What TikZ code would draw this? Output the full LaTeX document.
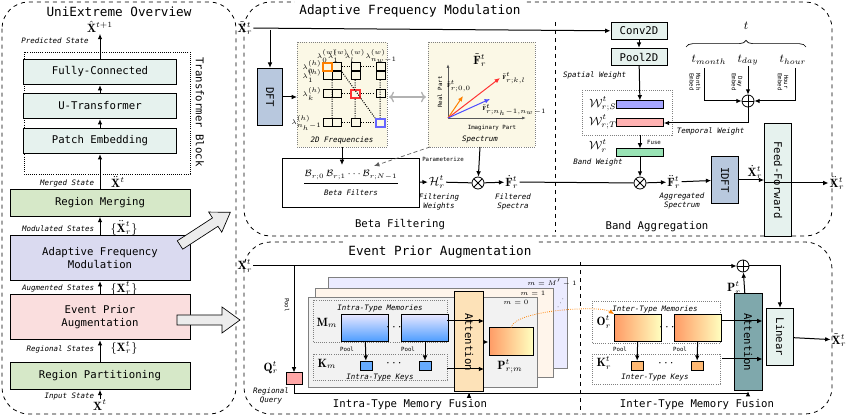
\documentclass[tikz,border=0pt]{standalone}
\usepackage{amsmath,amssymb}
\usepackage{fontspec}
\setmonofont{DejaVu Sans Mono}
\usetikzlibrary{arrows.meta,positioning,decorations.pathreplacing}
\tikzset{every picture/.style={line width=0.75pt}}
\tikzset{
  blk/.style={draw, font=\ttfamily\fontsize{8}{9.5}\selectfont, inner sep=1pt, align=center},
  ttl/.style={font=\ttfamily\fontsize{9.5}{11}\selectfont},
  sub/.style={font=\ttfamily\fontsize{8}{9}\selectfont},
  lbl/.style={font=\ttfamily\itshape\fontsize{5.6}{6.5}\selectfont, align=center, inner sep=1pt},
  tiny/.style={font=\ttfamily\fontsize{4.3}{4.8}\selectfont, align=center, inner sep=0.5pt},
  mth/.style={font=\fontsize{9}{10}\selectfont, inner sep=0.5pt},
  sml/.style={font=\fontsize{4.3}{5}\selectfont, inner sep=0pt},
  arr/.style={-{Latex[length=4pt,width=3.5pt]}},
  panel/.style={draw, dashed, rounded corners=20pt, line width=0.6pt},
  dotbox/.style={draw=gray, densely dotted, line width=0.6pt},
  op/.style={draw, circle, minimum size=9pt, inner sep=0pt, line width=0.6pt},
  oplus/.style={op, path picture={\draw (path picture bounding box.north) -- (path picture bounding box.south) (path picture bounding box.west) -- (path picture bounding box.east);}},
  otimes/.style={op, path picture={\draw (path picture bounding box.north west) -- (path picture bounding box.south east) (path picture bounding box.south west) -- (path picture bounding box.north east);}},
}
\definecolor{cTeal}{RGB}{230,242,238}
\definecolor{cGreen}{RGB}{214,232,200}
\definecolor{cLav}{RGB}{218,218,240}
\definecolor{cPink}{RGB}{250,222,222}
\definecolor{cDft}{RGB}{184,200,222}
\definecolor{cYel}{RGB}{251,248,230}
\definecolor{cAtt}{RGB}{253,226,184}
\definecolor{cAtt2}{RGB}{127,168,172}
\begin{document}
\begin{tikzpicture}[x=0.75pt,y=0.75pt,yscale=-1]
\path[use as bounding box] (0,0) rectangle (847,416);

% overview panel
\draw[panel] (2,2) rectangle (236,414);
\node[ttl] at (119,12) {UniExtreme Overview};
\draw[dotbox, draw=black] (24,52) rectangle (190,174);
\node[sub, rotate=-90] at (200,112) {Transformer Block};
\node[mth] (xout) at (100,27) {$\hat{\mathbf{X}}^{t+1}$};
\node[lbl] at (55,41) {Predicted State};
\node[blk, fill=cTeal, minimum width=115, minimum height=19] (fc) at (100,72) {Fully-Connected};
\node[blk, fill=cTeal, minimum width=115, minimum height=19] (ut) at (100,106) {U-Transformer};
\node[blk, fill=cTeal, minimum width=115, minimum height=19] (pe) at (100,141) {Patch Embedding};
\node[blk, fill=cGreen, minimum width=135, minimum height=20] (rm) at (100,203) {Region Merging};
\node[blk, fill=cLav, minimum width=135, minimum height=34] (afm) at (100,258) {Adaptive Frequency\\Modulation};
\node[blk, fill=cPink, minimum width=135, minimum height=34] (epa) at (100,317) {Event Prior\\Augmentation};
\node[blk, fill=cGreen, minimum width=135, minimum height=20] (rp) at (100,376) {Region Partitioning};
\node[mth] (xin) at (100,405) {$\mathbf{X}^{t}$};
\node[lbl, anchor=east] at (96,183) {Merged State};
\node[mth] at (118,182) {$\ddot{\mathbf{X}}^{t}$};
\node[lbl, anchor=east] at (96,229) {Modulated States};
\node[mth] at (124,228) {$\{\ddot{\mathbf{X}}^{t}_{r}\}$};
\node[lbl, anchor=east] at (96,288) {Augmented States};
\node[mth] at (124,288) {$\{\tilde{\mathbf{X}}^{t}_{r}\}$};
\node[lbl, anchor=east] at (96,349) {Regional States};
\node[mth] at (124,348) {$\{\mathbf{X}^{t}_{r}\}$};
\node[lbl, anchor=east] at (96,397) {Input State};
\draw[arr] (xin) -- (rp);
\draw[arr] (rp) -- (epa);
\draw[arr] (epa) -- (afm);
\draw[arr] (afm) -- (rm);
\draw[arr] (rm) -- (pe);
\draw[arr] (pe) -- (ut);
\draw[arr] (ut) -- (fc);
\draw[arr] (fc) -- (xout);
% hollow arrows
\draw[fill=gray!15, line width=0.5pt, rotate around={-33:(180,245)}] (180,240) -- (222,240) -- (222,233) -- (240,245) -- (222,257) -- (222,250) -- (180,250) -- cycle;
\draw[fill=gray!15, line width=0.5pt] (177,315) -- (222,315) -- (222,307) -- (240,320) -- (222,333) -- (222,325) -- (177,325) -- cycle;

% adaptive frequency modulation
\draw[panel] (244,2) rectangle (832,236);
\node[ttl, fill=white] at (410,11) {Adaptive Frequency Modulation};
\draw[dashed, line width=0.5pt] (555,22) -- (555,232);
\node[mth] (xa) at (245,28) {$\tilde{\mathbf{X}}^{t}_{r}$};
\node[blk, fill=cTeal, minimum width=42, minimum height=13] (conv) at (639,31) {Conv2D};
\node[blk, fill=cTeal, minimum width=42, minimum height=13] (pool) at (639,57) {Pool2D};
\draw[arr] (xa) -- (conv);
\draw[arr] (conv) -- (pool);
\node[blk, fill=cDft, minimum width=43, minimum height=19, rotate=-90] (dft) at (270,97) {DFT};
\coordinate (dfttap) at (270,30);
\draw[arr] (dfttap) -- (dft);
% 2D frequencies
\draw[dotbox, fill=cYel] (297,42) rectangle (387,147);
\node[lbl] (freq) at (342,140) {2D Frequencies};
\coordinate (freqin) at (297,97);
\draw[arr] (dft) -- (freqin);
\foreach \y/\l in {67/0,76/1,94/k} {
  \draw (323,\y-4) rectangle (332,\y+4) (332,\y-4) rectangle (341,\y+4);
  \draw (351,\y-4) rectangle (360,\y+4) (376,\y-4) rectangle (385,\y+4);
  \node[sml, anchor=east] at (322,\y) {$\lambda^{(h)}_{\l}$};
}
\draw (323,119) rectangle (332,127) (332,119) rectangle (341,127) (351,119) rectangle (360,127);
\node[sml, anchor=east] at (322,123) {$\lambda^{(h)}_{n_h-1}$};
\draw[orange, line width=0.9pt] (323,63) rectangle (332,71);
\draw[red!80, line width=0.9pt] (351,90) rectangle (360,98);
\draw[blue!60, line width=0.9pt] (376,119) rectangle (385,127);
\draw[densely dotted] (342,67) -- (350,67) (361,67) -- (375,67) (342,94) -- (350,94) (361,94) -- (375,94) (342,123) -- (350,123) (361,123) -- (375,123);
\draw[densely dotted] (332,80) -- (332,118) (355,80) -- (355,89) (355,99) -- (355,118) (380,80) -- (380,118) (342,72) -- (375,118);
\node[sml] at (327,56) {$\lambda^{(w)}_{0}$};
\node[sml] at (338,56) {$\lambda^{(w)}_{1}$};
\node[sml] at (355,56) {$\lambda^{(w)}_{l}$};
\node[sml] at (381,56) {$\lambda^{(w)}_{n_w-1}$};
% spectrum
\draw[dotbox, fill=cYel] (428,42) rectangle (535,147);
\node[lbl] (spec) at (480,140) {Spectrum};
\node[mth] at (480,60) {$\tilde{\mathbf{F}}^{t}_{r}$};
\draw[<->, gray!60, line width=1pt] (389,97) -- (426,97);
\coordinate (orig) at (448,118);
\coordinate (yax) at (448,64);
\coordinate (xax) at (526,118);
\draw[-{Latex[length=3pt]}, gray!70!black, line width=0.6pt] (orig) -- (yax);
\draw[-{Latex[length=3pt]}, gray!70!black, line width=0.6pt] (orig) -- (xax);
\node[tiny, rotate=90] at (440,92) {Real Part};
\node[tiny] at (492,128) {Imaginary Part};
\draw[arr, orange] (orig) -- (463,96);
\draw[arr, red!80] (orig) -- (500,78);
\draw[arr, blue!70] (orig) -- (490,99);
\node[sml] at (459,86) {$\tilde{\mathbf{F}}^{t}_{r;0,0}$};
\node[sml, anchor=west] at (502,78) {$\tilde{\mathbf{F}}^{t}_{r;k,l}$};
\node[sml, anchor=west] at (482,110) {$\tilde{\mathbf{F}}^{t}_{r;n_h-1,n_w-1}$};
% beta filters
\node[draw, line width=0.6pt, minimum width=103, minimum height=37, inner sep=1pt, align=center] (beta) at (351,183) {};
\draw[line width=0.5pt] (304,183) -- (398,183);
\node[font=\fontsize{7}{8}\selectfont] at (351,175) {$\mathcal{B}_{r;0}\,\mathcal{B}_{r;1}\cdots\mathcal{B}_{r;N-1}$};
\node[lbl] at (351,193) {Beta Filters};
\coordinate (freqout) at (342,147);
\draw[arr] (freqout) -- (342,165);
\coordinate (specpar) at (430,147);
\draw[arr, densely dashed, gray!70!black, line width=0.5pt] (specpar) -- (374,166);
\node[tiny] at (443,159) {Parameterize};
\node[mth] (hw) at (437,182) {$\mathcal{H}^{t}_{r}$};
\node[lbl] at (439,202) {Filtering\\Weights};
\node[otimes] (mul1) at (478,183) {};
\node[mth] (fdot) at (512,182) {$\dot{\mathbf{F}}^{t}_{r}$};
\node[lbl] at (513,202) {Filtered\\Spectra};
\draw[arr] (beta) -- (hw);
\draw (hw) -- (mul1);
\coordinate (specout) at (480,147);
\draw[arr] (specout) -- (mul1);
\draw[arr] (mul1) -- (fdot);
\node[sub] at (400,225) {Beta Filtering};
\node[sub] at (657,227) {Band Aggregation};
% band weights
\node[lbl, anchor=east] at (628,75) {Spatial Weight};
\draw[dotbox] (582,90) rectangle (672,135);
\node[draw, fill=blue!35, minimum width=35, minimum height=6, inner sep=0] (ws) at (640,105) {};
\node[draw, fill=red!30, minimum width=35, minimum height=6, inner sep=0] (wt) at (640,123) {};
\node[mth] at (603,104) {$\mathcal{W}^{t}_{r;S}$};
\node[mth] at (603,122) {$\mathcal{W}^{t}_{r;T}$};
\draw[arr] (pool) -- (ws);
\node[draw, fill=green!45!teal!40, minimum width=35, minimum height=6, inner sep=0] (wb) at (640,153) {};
\coordinate (wbox) at (640,135);
\draw[arr] (wbox) -- (wb);
\node[tiny] at (654,142) {Fuse};
\node[mth] at (598,146) {$\mathcal{W}^{t}_{r}$};
\node[lbl] at (598,162) {Band Weight};
\node[otimes] (mul2) at (640,183) {};
\draw[arr] (wb) -- (mul2);
\draw (fdot) -- (mul2);
% time embedding
\node[mth] at (746,26) {$t$};
\draw[decorate, decoration={brace, amplitude=5pt}, line width=0.5pt] (686,47) -- (806,47);
\node[mth] (tm) at (709,60) {$t_{month}$};
\node[mth] (td) at (748,60) {$t_{day}$};
\node[mth] (th) at (793,60) {$t_{hour}$};
\node[tiny, rotate=-90] at (695,82) {Month\\Embed};
\node[tiny, rotate=-90] at (737,82) {Day\\Embed};
\node[tiny, rotate=-90] at (783,82) {Hour\\Embed};
\node[oplus] (tsum) at (748,101) {};
\draw[arr] (td) -- (tsum);
\draw[arr] (704,68) |- (tsum);
\draw[arr] (795,68) |- (tsum);
\draw[arr] (tsum) |- (wt);
\node[lbl, anchor=west] at (675,131) {Temporal Weight};
% output of AFM
\node[mth] (fdd) at (674,182) {$\ddot{\mathbf{F}}^{t}_{r}$};
\node[lbl] at (682,201) {Aggregated\\Spectrum};
\node[blk, fill=cDft, minimum width=35, minimum height=20, rotate=-90] (idft) at (725,180) {IDFT};
\node[mth] (xd) at (755,172) {$\dot{\mathbf{X}}^{t}_{r}$};
\node[blk, fill=cTeal, minimum width=85, minimum height=20, rotate=-90] (ff) at (778,180) {Feed-Forward};
\node[mth] (xo) at (837,183) {$\ddot{\mathbf{X}}^{t}_{r}$};
\draw[arr] (mul2) -- (fdd);
\draw[arr] (fdd) -- (idft);
\draw[arr] (idft) -- (ff);
\draw[arr] (ff.south |- xo) -- (xo);

% event prior augmentation
\draw[panel] (244,242) rectangle (832,414);
\node[ttl, fill=white] at (440,252) {Event Prior Augmentation};
\draw[dashed, line width=0.5pt] (580,262) -- (580,414);
\node[mth] (xb) at (245,266) {$\mathbf{X}^{t}_{r}$};
\node[oplus] (psum) at (743,266) {};
\draw[arr] (xb) -- (psum);
\node[draw, fill=red!35, minimum width=12, minimum height=9, inner sep=0] (q) at (294,379) {};
\coordinate (qtap) at (294,266);
\draw[arr] (qtap) -- (q);
\node[tiny, rotate=-90] at (287,305) {Pool};
\node[mth] at (271,368) {$\mathbf{Q}^{t}_{r}$};
\node[lbl] at (271,396) {Regional\\Query};
% stacked cards
\draw[fill=blue!8, draw=gray, line width=0.5pt] (328,277) rectangle (567,368);
\draw[fill=orange!8, draw=gray, line width=0.5pt] (315,288) rectangle (553,377);
\draw[fill=gray!10, draw=gray, line width=0.7pt] (308,297) rectangle (537,387);
\node[sml] at (552,283) {$m=M'-1$};
\node[sml] at (533,293) {$m=1$};
\node[sml] at (516,302) {$m=0$};
\node[sml, rotate=60] at (561,303) {$\cdots$};
\draw[dotbox] (313,300) rectangle (447,342);
\node[lbl] at (380,308) {Intra-Type Memories};
\draw[dotbox] (313,354) rectangle (447,380);
\node[lbl] at (380,378) {Intra-Type Keys};
\node[mth] at (327,323) {$\mathbf{M}_{m}$};
\node[mth] at (327,364) {$\mathbf{K}_{m}$};
\node[draw, minimum width=35, minimum height=20, inner sep=0, top color=blue!10, bottom color=blue!55!cyan!70] (m1) at (365,328) {};
\node[draw, minimum width=35, minimum height=20, inner sep=0, top color=blue!10, bottom color=blue!55!cyan!70] (m2) at (425,328) {};
\node at (395,328) {$\cdots$};
\node[draw, fill=blue!55!cyan!60, minimum width=9, minimum height=7, inner sep=0] (k1) at (366,366) {};
\node[draw, fill=blue!55!cyan!60, minimum width=9, minimum height=7, inner sep=0] (k2) at (425,366) {};
\node at (395,364) {$\cdots$};
\draw[arr] (m1) -- (k1);
\draw[arr] (m2) -- (k2);
\node[tiny] at (347,349) {Pool};
\node[tiny] at (408,349) {Pool};
\node[blk, fill=cAtt, minimum width=75, minimum height=22, rotate=-90] (att1) at (469,342) {Attention};
\coordinate (mout) at (447,321);
\coordinate (kout) at (447,369);
\draw[arr] (mout) -- (att1.north |- mout);
\draw[arr] (kout) -- (att1.north |- kout);
\node[draw, minimum width=33, minimum height=21, inner sep=0, left color=orange!70!red!60, right color=yellow!25] (pm) at (511,342) {};
\node[mth] at (510,366) {$\mathbf{P}^{t}_{r;m}$};
\draw[arr] (att1) -- (pm);
% inter-type
\draw[dotbox] (592,301) rectangle (720,343);
\node[lbl] at (655,309) {Inter-Type Memories};
\draw[dotbox] (592,354) rectangle (720,384);
\node[lbl] at (655,378) {Inter-Type Keys};
\node[mth] at (604,322) {$\mathbf{O}^{t}_{r}$};
\node[mth] at (604,363) {$\mathbf{K}^{t}_{r}$};
\node[draw, minimum width=35, minimum height=20, inner sep=0, left color=orange!70!red!60, right color=yellow!25] (o1) at (638,328) {};
\node[draw, minimum width=35, minimum height=20, inner sep=0, left color=orange!70!red!60, right color=yellow!25] (o2) at (698,328) {};
\node at (668,328) {$\cdots$};
\node[draw, fill=orange!55, minimum width=9, minimum height=7, inner sep=0] (ok1) at (637,366) {};
\node[draw, fill=orange!55, minimum width=9, minimum height=7, inner sep=0] (ok2) at (697,366) {};
\node at (667,364) {$\cdots$};
\draw[arr] (o1) -- (ok1);
\draw[arr] (o2) -- (ok2);
\node[tiny] at (620,349) {Pool};
\node[tiny] at (680,349) {Pool};
\draw[arr, densely dotted, orange, line width=0.6pt] (pm.north) .. controls (515,310) and (600,305) .. (o1.north west);
\node[blk, fill=cAtt2, minimum width=73, minimum height=21, rotate=-90] (att2) at (748,342) {Attention};
\coordinate (oout) at (722,321);
\coordinate (okout) at (722,359);
\draw[arr] (oout) -- (att2.north |- oout);
\draw[arr] (okout) -- (att2.north |- okout);
\draw[arr] (q) |- (748,394) -- (att2);
\draw[arr] (att1.east |- 469,394) -- (att1);
\draw[arr] (att2) -- (psum);
\node[mth] at (734,288) {$\mathbf{P}^{t}_{r}$};
\node[blk, fill=cTeal, minimum width=43, minimum height=20, rotate=-90] (lin) at (780,337) {Linear};
\draw[arr] (psum) -| (lin);
\node[mth] (xe) at (839,340) {$\tilde{\mathbf{X}}^{t}_{r}$};
\draw[arr] (lin) -- (xe);
\node[sub] at (410,405) {Intra-Type Memory Fusion};
\node[sub] at (697,405) {Inter-Type Memory Fusion};
\end{tikzpicture}
\end{document}
